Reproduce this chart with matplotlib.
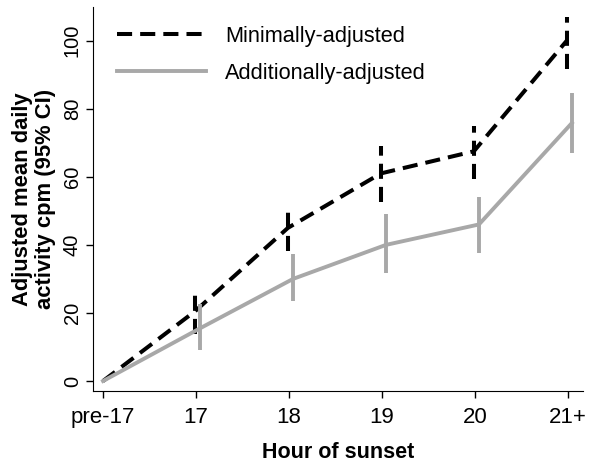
import numpy as np
import matplotlib
matplotlib.use('Agg')
import matplotlib.pyplot as plt

plt.rcParams['font.family'] = ['Liberation Sans', 'DejaVu Sans']

# data
hours = ['pre-17', '17', '18', '19', '20', '21+']
min_mean = [0, 20.5, 45, 61, 67.5, 100]
min_lo = [np.nan, 13.8, 38.2, 52.5, 59.5, 91.7]
min_hi = [np.nan, 25.5, 50, 69, 75, 107]
add_mean = [0, 15.5, 30, 40, 46, 75.8]
add_lo = [np.nan, 9, 23.5, 31.6, 37.7, 67.1]
add_hi = [np.nan, 22.5, 37.2, 49, 54, 84.6]

x = np.arange(len(hours))
x_min = x - 0.01
x_min[0] = 0
x_add = x + 0.045
x_add[0] = 0

gray = '#a8a8a8'

fig = plt.figure(figsize=(6, 4.67), dpi=100)
ax = fig.add_axes([0.155, 0.1634, 0.8167, 0.8216])

dash = (0, (3.75, 2))
ax.plot(x_min, min_mean, color='black', lw=2.9, linestyle=dash, label='Minimally-adjusted')
ax.vlines(x_min[1:], min_lo[1:], min_hi[1:], color='black', lw=2.9, linestyle=dash)
ax.plot(x_add, add_mean, color=gray, lw=2.8, label='Additionally-adjusted')
ax.vlines(x_add[1:], add_lo[1:], add_hi[1:], color=gray, lw=2.8)

ax.set_xlim(-0.108, 5.165)
ax.set_ylim(-2.85, 109.9)
ax.set_xticks(x)
ax.set_xticklabels(hours)
ax.set_yticks([0, 20, 40, 60, 80, 100])
for lab in ax.get_yticklabels():
    lab.set_rotation(90)
    lab.set_va('center')
ax.tick_params(length=5, width=1)
ax.tick_params(axis='x', labelsize=16, pad=7)
ax.tick_params(axis='y', labelsize=14.5, pad=3)
ax.spines['top'].set_visible(False)
ax.spines['right'].set_visible(False)

ax.set_xlabel('Hour of sunset', fontsize=15.5, fontweight='bold', labelpad=10)
ax.set_ylabel('Adjusted mean daily\nactivity cpm (95% CI)', fontsize=15.8,
              fontweight='bold', labelpad=5, linespacing=1.15)

ax.legend(loc='upper left', frameon=False, fontsize=15.7, handlelength=4.1,
          handletextpad=0.87, labelspacing=0.73, borderaxespad=0,
          bbox_to_anchor=(0.031, 0.974))

plt.savefig('out.png')
